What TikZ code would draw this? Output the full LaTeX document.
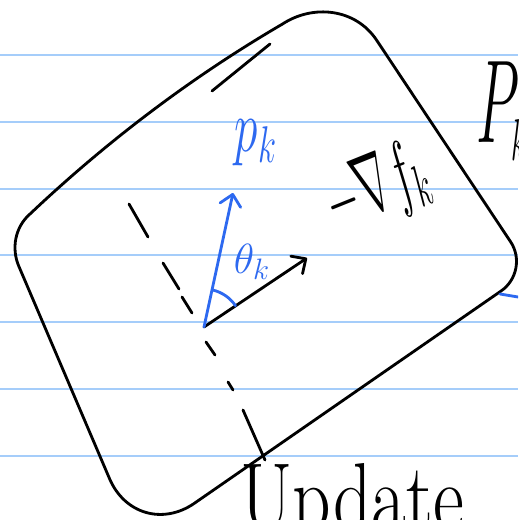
\RequirePackage{fix-cm}
\documentclass[tikz,border=0pt]{standalone}
\usepackage{graphicx}
\usetikzlibrary{arrows.meta}
\definecolor{penblue}{RGB}{45,105,240}
\definecolor{ruleblue}{RGB}{165,205,250}

\begin{document}
\begin{tikzpicture}[
        x=0.02cm, y=-0.02cm,
        ruled/.style={ruleblue, line width=1.4pt},
        pen/.style={line width=1.6pt, line cap=round, line join=round},
        barb/.style={-{Straight Barb[length=2.2mm, width=4.2mm, round]}},
        hand/.style={inner sep=0pt}
    ]
    \useasboundingbox (0,0) rectangle (518,520);
    \clip (0,0) rectangle (518,520);
    \fill[white] (0,0) rectangle (518,520);

    \foreach \y in {55,122,189,255,322,389,456}
        \draw[ruled] (0,\y) -- (518,\y);

    \draw[pen] (30,214) .. controls (105,143) and (190,78) .. (282.2,24.2) .. controls (312.9,4) and (355.4,8.2) .. (376.7,40.3)
        -- (510.6,241.8) .. controls (521.3,257.9) and (517,279.9) .. (501.2,290.9)
        -- (194.5,503.2) .. controls (162.9,525.1) and (124.6,514) .. (109.5,478.6)
        -- (18.8,266.2) .. controls (11.2,248.5) and (15,227) .. (30,214) -- cycle;

    \draw[pen] (212,91) -- (270,44);
    \draw[pen, penblue] (500,294) -- (518,297);
    \foreach \sx/\sy/\ex/\ey in {129/204/148/237, 163/263/179/289, 182/297/192/313,
            206/342/215/355, 228/382/233/390, 243/410/265/460}
        \draw[pen] (\sx,\sy) -- (\ex,\ey);

    \coordinate (O) at (204,327);
    \coordinate (gtip) at (307,258);
    \coordinate (ptip) at (233,193);
    \draw[pen, barb] (O) -- (gtip);
    \draw[pen, barb, penblue] (O) -- (ptip);
    \draw[pen, penblue] (O) ++(-34:38) arc[start angle=-34, end angle=-77, radius=38];

    \node[hand, penblue, font=\fontsize{30}{30}\selectfont] (plabel) at (256,143) {\scalebox{0.9}[1.4]{$p_k$}};
    \node[hand, penblue, font=\fontsize{24}{24}\selectfont] (tlabel) at (252,262) {$\theta_k$};
    \node[hand, font=\fontsize{32}{32}\selectfont, rotate=22] (glabel) at (377,190) {\scalebox{0.75}[1.5]{$-\nabla f_k$}};
    \node[hand, font=\fontsize{64}{64}\selectfont, anchor=base west] (Plabel) at (476,143) {\scalebox{0.5}[1.05]{$P_{\scriptscriptstyle k}$}};
    \node[hand, font=\fontsize{50}{50}\selectfont, anchor=base west] (update) at (240,530) {\scalebox{0.86}[1.1]{Update}};
\end{tikzpicture}
\end{document}
